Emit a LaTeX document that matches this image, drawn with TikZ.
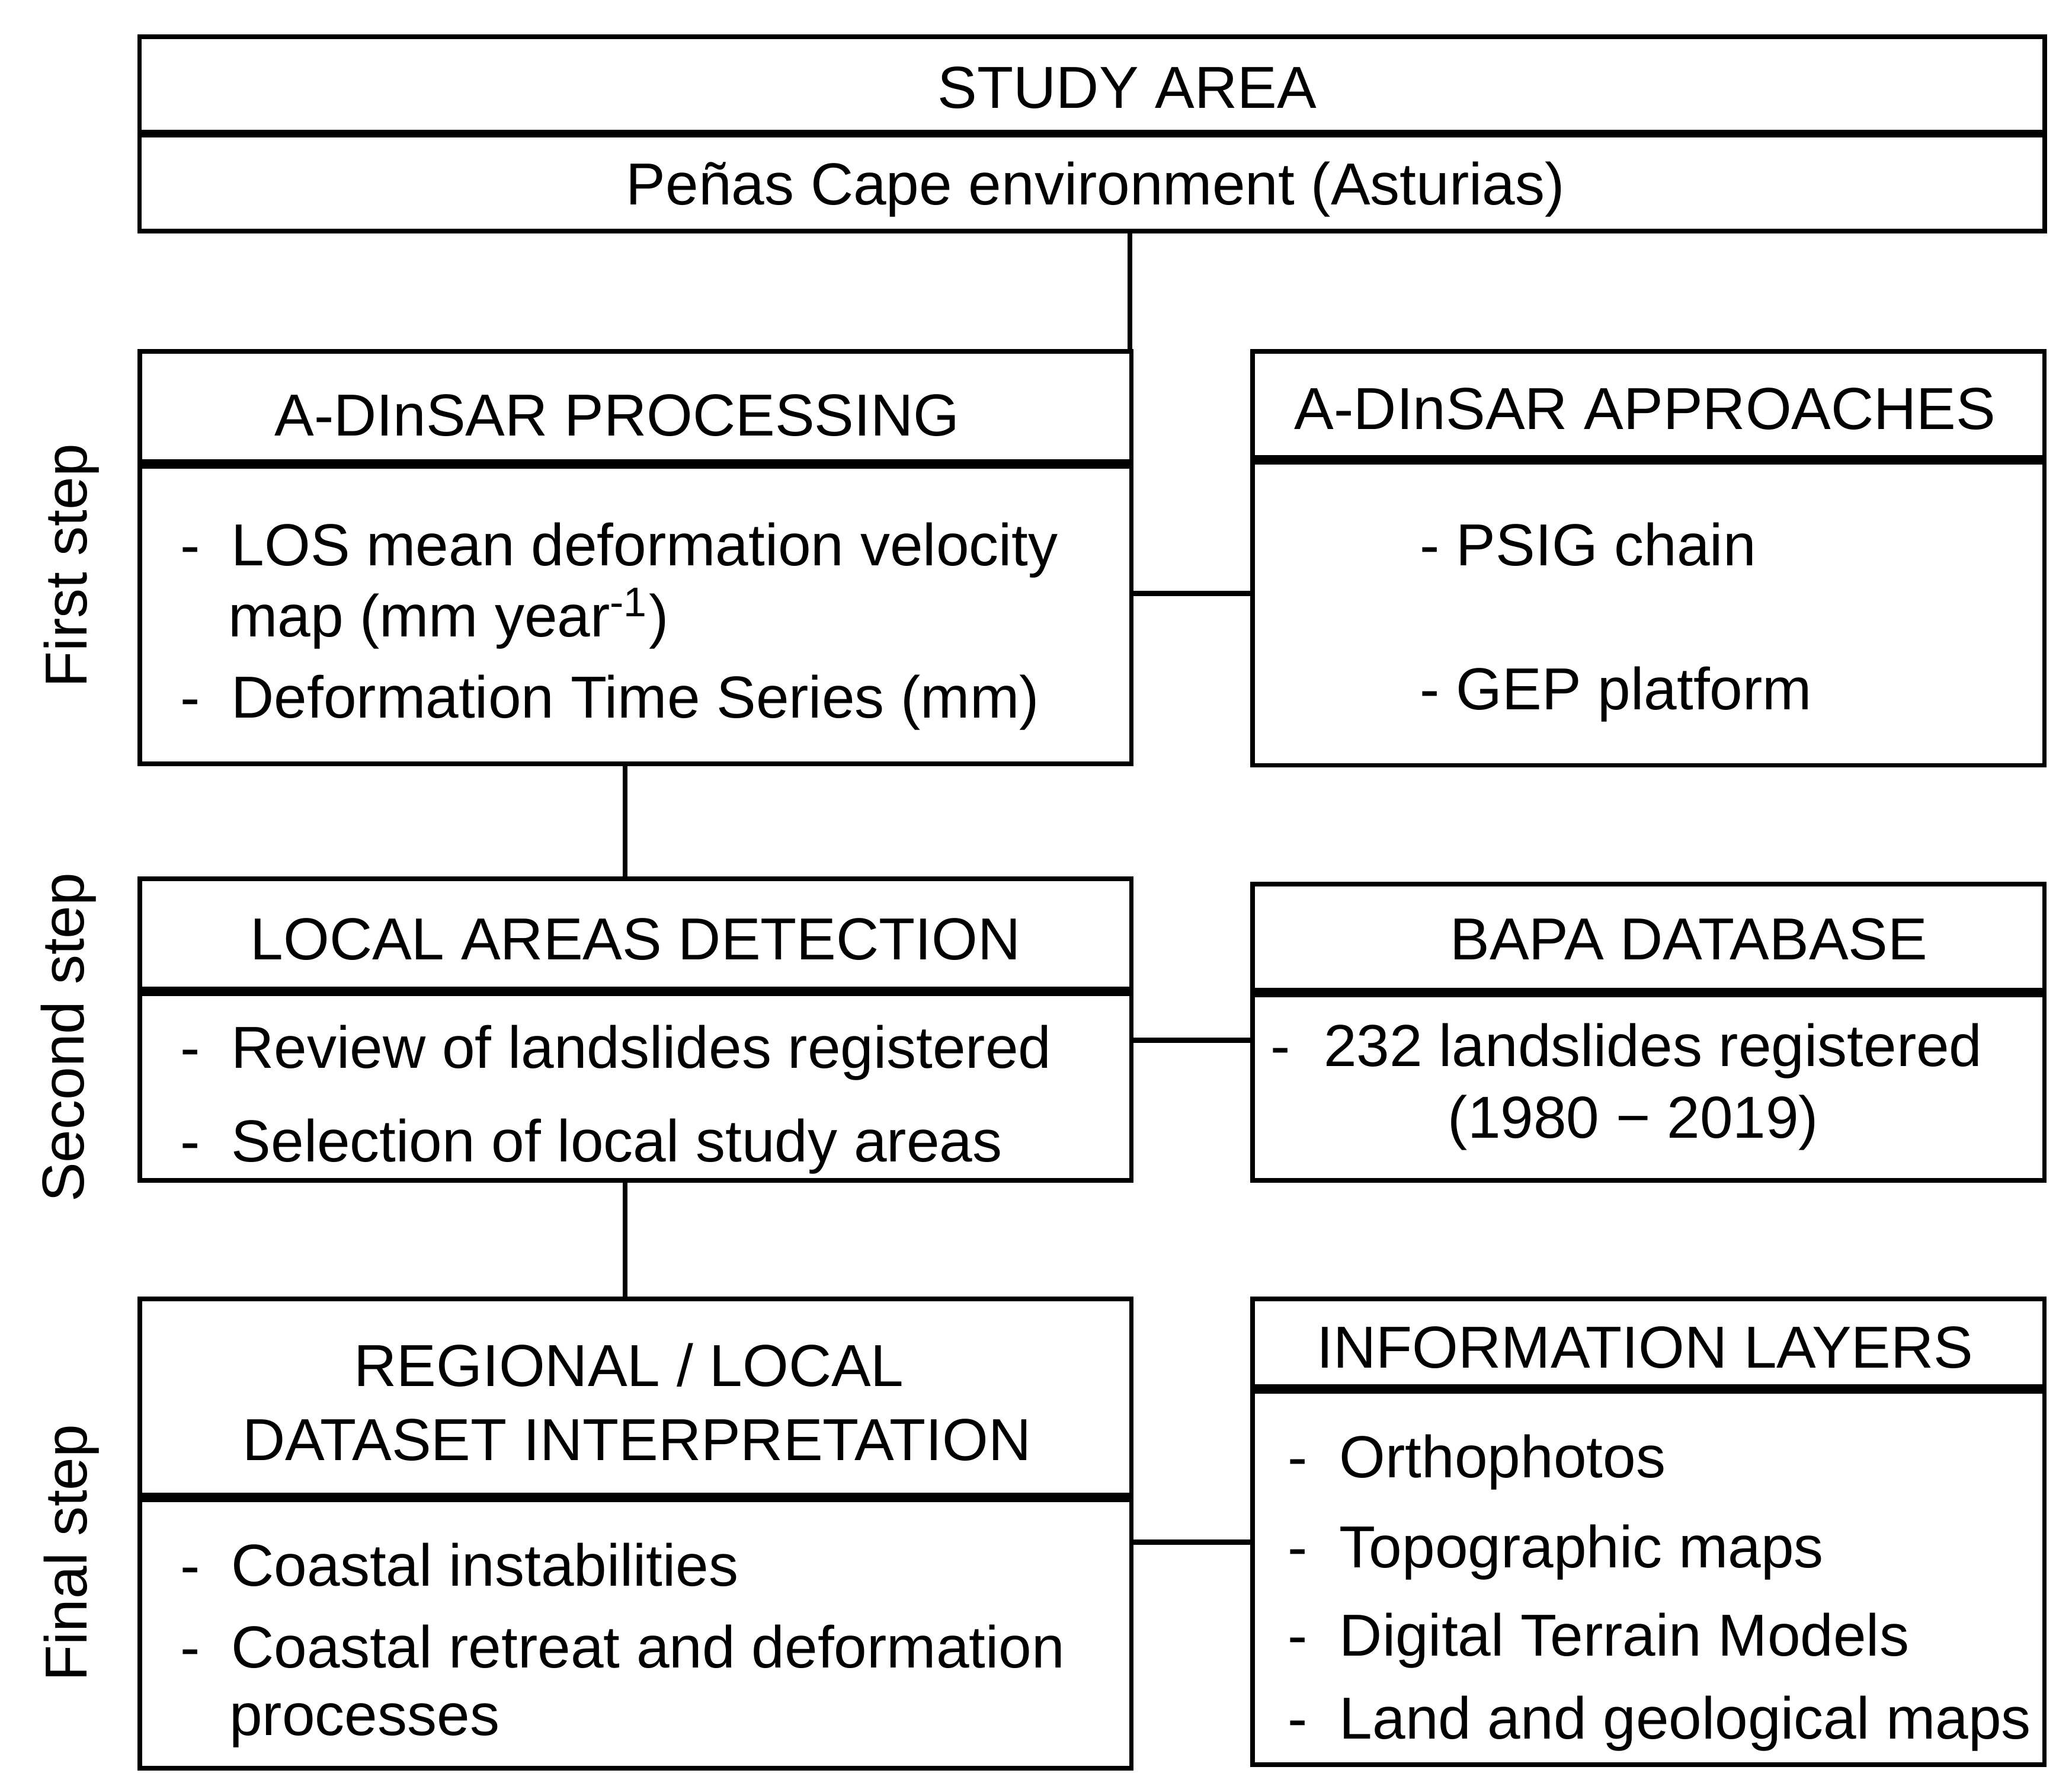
\documentclass[tikz,border=0pt]{standalone}
\usepackage{fontspec}
\setmainfont{Liberation Sans}
\begin{document}
\begin{tikzpicture}[x=0.01cm,y=-0.01cm,
  every node/.style={font=\fontsize{12.75}{15}\selectfont},
  blk/.style={draw, line width=1pt, rectangle, inner sep=0pt, fill=none},
  divider/.style={line width=2pt},
  link/.style={line width=1.1pt},
  txt/.style={inner sep=0pt, anchor=base west},
  ctxt/.style={inner sep=0pt, anchor=base},
  side/.style={inner sep=0pt, rotate=90, anchor=center}]
\useasboundingbox (0,0) rectangle (1568,1351);
\newcommand{\dsh}{\makebox[0.385cm][l]{-}}

% boxes
\node[blk, minimum width=14.41cm, minimum height=1.47cm] (study) at (826.5,101.5) {};
\node[blk, minimum width=7.50cm, minimum height=3.12cm] (proc) at (481,422) {};
\node[blk, minimum width=5.99cm, minimum height=3.13cm] (appr) at (1247.5,422.5) {};
\node[blk, minimum width=7.50cm, minimum height=2.28cm] (local) at (481,779) {};
\node[blk, minimum width=5.99cm, minimum height=2.24cm] (bapa) at (1247.5,781) {};
\node[blk, minimum width=7.50cm, minimum height=3.55cm] (regional) at (481,1160.5) {};
\node[blk, minimum width=5.99cm, minimum height=3.52cm] (info) at (1247.5,1159) {};

% dividers
\draw[line width=1.6pt] (study.west |- 0,101) -- (study.east |- 0,101);
\draw[divider] (proc.west |- 0,351) -- (proc.east |- 0,351);
\draw[divider] (appr.west |- 0,348) -- (appr.east |- 0,348);
\draw[divider] (local.west |- 0,750) -- (local.east |- 0,750);
\draw[divider] (bapa.west |- 0,751) -- (bapa.east |- 0,751);
\draw[divider] (regional.west |- 0,1133) -- (regional.east |- 0,1133);
\draw[divider] (info.west |- 0,1051) -- (info.east |- 0,1051);

% connectors
\coordinate (c0) at (855,175);
\draw[link] (c0) -- (c0 |- proc.north);
\coordinate (c1) at (856,449);
\draw[link] (c1) -- (c1 -| appr.west);
\coordinate (c2) at (473,578);
\draw[link] (c2) -- (c2 |- local.north);
\coordinate (c3) at (856,787);
\draw[link] (c3) -- (c3 -| bapa.west);
\coordinate (c4) at (473,893);
\draw[link] (c4) -- (c4 |- regional.north);
\coordinate (c5) at (856,1167);
\draw[link] (c5) -- (c5 -| info.west);

% texts
\node[ctxt] (t1) at (853,82) {STUDY AREA};
\node[ctxt] (t2) at (829,155) {Peñas Cape environment (Asturias)};

\node[ctxt] (t3) at (467,330) {A-DInSAR PROCESSING};
\node[txt] (t4) at (136,428) {\dsh LOS mean deformation velocity};
\node[txt] (t5) at (172,482) {map (mm year\textsuperscript{-1})};
\node[txt] (t6) at (136,543) {\dsh Deformation Time Series (mm)};

\node[ctxt] (t7) at (1245,325) {A-DInSAR APPROACHES};
\node[txt] (t8) at (1074,428) {- PSIG chain};
\node[txt] (t9) at (1074,537) {- GEP platform};

\node[ctxt] (t10) at (481,726) {LOCAL AREAS DETECTION};
\node[txt] (t11) at (136,808) {\dsh Review of landslides registered};
\node[txt] (t12) at (136,879) {\dsh Selection of local study areas};

\node[ctxt] (t13) at (1278,726) {BAPA DATABASE};
\node[txt] (t14) at (961,807) {\makebox[0.40cm][l]{-}232 landslides registered};
\node[ctxt] (t15) at (1236,861) {(1980 \char"2212\ 2019)};

\node[ctxt] (t16) at (476,1049) {REGIONAL / LOCAL};
\node[ctxt] (t17) at (482,1105) {DATASET INTERPRETATION};
\node[txt] (t18) at (136,1200) {\dsh Coastal instabilities};
\node[txt] (t19) at (136,1262) {\dsh Coastal retreat and deformation};
\node[txt] (t20) at (173,1313) {processes};

\node[ctxt] (t21) at (1245,1035) {INFORMATION LAYERS};
\node[txt] (t22) at (974,1118) {\makebox[0.39cm][l]{-}Orthophotos};
\node[txt] (t23) at (974,1186) {\makebox[0.39cm][l]{-}Topographic maps};
\node[txt] (t24) at (974,1253) {\makebox[0.39cm][l]{-}Digital Terrain Models};
\node[txt] (t25) at (974,1316) {\makebox[0.39cm][l]{-}Land and geological maps};

% side labels
\node[side] (s1) at (54,428) {First step};
\node[side] (s2) at (52,785) {Second step};
\node[side] (s3) at (54,1175) {Final step};
\end{tikzpicture}
\end{document}
